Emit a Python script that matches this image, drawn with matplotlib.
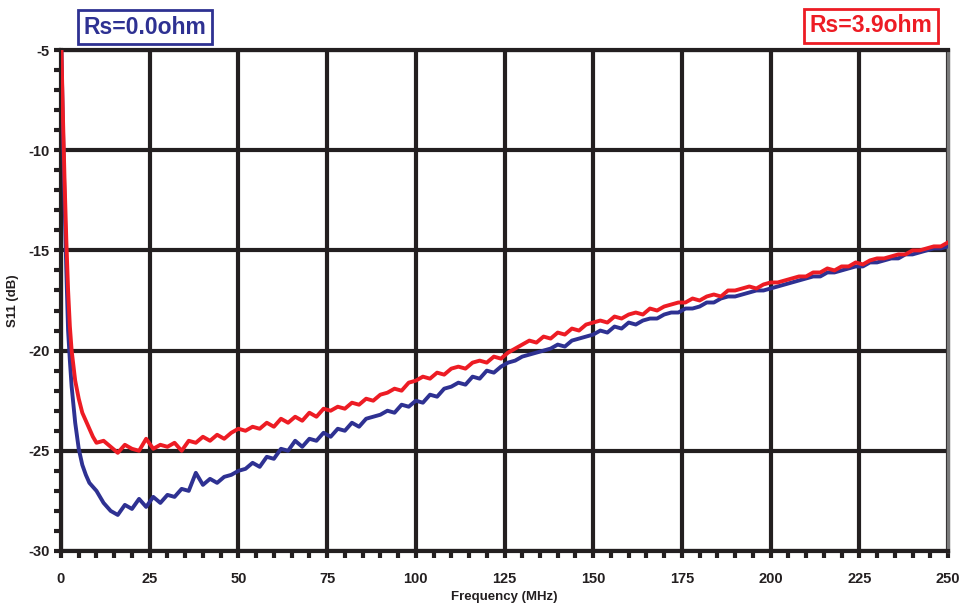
import numpy as np
import matplotlib.pyplot as plt
from matplotlib.ticker import MultipleLocator

# S11 sweep
freq_start = [0, 0.5, 1, 1.5, 2, 2.5, 3, 4, 5, 6, 7, 8, 9, 10]
freq_sweep = list(range(12, 251, 2))
freq = np.array(freq_start + freq_sweep, dtype=float)

s11_rs39 = [
    -4.0, -8.0, -11.5, -14.5, -17.0, -18.8, -20.0, -21.5, -22.4, -23.1, -23.5, -23.9, -24.3, -24.6,
    -24.5, -24.8, -25.1, -24.7, -24.9, -25.0, -24.4, -24.9, -24.7, -24.8,
    -24.6, -25.0, -24.5, -24.6, -24.3, -24.5, -24.2, -24.4, -24.1, -23.9,
    -24.0, -23.8, -23.9, -23.6, -23.8, -23.4, -23.6, -23.3, -23.5, -23.1,
    -23.3, -22.9, -23.0, -22.8, -22.9, -22.6, -22.7, -22.4, -22.5, -22.2,
    -22.1, -21.9, -22.0, -21.6, -21.5, -21.3, -21.4, -21.1, -21.2, -20.9,
    -20.8, -20.9, -20.6, -20.5, -20.6, -20.3, -20.4, -20.1, -19.9, -19.7,
    -19.5, -19.6, -19.3, -19.4, -19.1, -19.2, -18.9, -19.0, -18.7, -18.6,
    -18.5, -18.6, -18.3, -18.4, -18.2, -18.1, -18.2, -17.9, -18.0, -17.8,
    -17.7, -17.6, -17.6, -17.4, -17.5, -17.3, -17.2, -17.3, -17.0, -17.0,
    -16.9, -16.8, -16.9, -16.7, -16.6, -16.6, -16.5, -16.4, -16.3, -16.3,
    -16.1, -16.1, -15.9, -16.0, -15.8, -15.8, -15.6, -15.7, -15.5, -15.4,
    -15.4, -15.3, -15.2, -15.2, -15.0, -15.0, -14.9, -14.8, -14.8, -14.6,
]

s11_rs00 = [
    -4.0, -8.5, -12.5, -16.0, -19.0, -20.5, -21.8, -23.6, -24.9, -25.7, -26.2, -26.6, -26.8, -27.0,
    -27.6, -28.0, -28.2, -27.7, -27.9, -27.4, -27.8, -27.3, -27.6, -27.2,
    -27.3, -26.9, -27.0, -26.1, -26.7, -26.4, -26.6, -26.3, -26.2, -26.0,
    -25.9, -25.6, -25.8, -25.3, -25.4, -24.9, -25.0, -24.5, -24.8, -24.4,
    -24.5, -24.1, -24.3, -23.9, -24.0, -23.6, -23.8, -23.4, -23.3, -23.2,
    -23.0, -23.1, -22.7, -22.8, -22.5, -22.6, -22.2, -22.3, -21.9, -21.8,
    -21.6, -21.7, -21.3, -21.4, -21.0, -21.1, -20.8, -20.6, -20.5, -20.3,
    -20.2, -20.1, -20.0, -19.9, -19.7, -19.8, -19.5, -19.4, -19.3, -19.2,
    -19.0, -19.1, -18.8, -18.9, -18.6, -18.7, -18.5, -18.4, -18.4, -18.2,
    -18.1, -18.1, -17.9, -17.9, -17.8, -17.6, -17.6, -17.4, -17.3, -17.3,
    -17.2, -17.1, -17.0, -17.0, -16.9, -16.8, -16.7, -16.6, -16.5, -16.4,
    -16.3, -16.3, -16.1, -16.1, -16.0, -15.9, -15.8, -15.8, -15.6, -15.6,
    -15.5, -15.4, -15.4, -15.2, -15.2, -15.1, -15.0, -14.9, -14.9, -14.8,
]

xticks = [0, 25, 50, 75, 100, 125, 150, 175, 200, 225, 250]
yticks = [-30, -25, -20, -15, -10, -5]

BLUE = "#2e3192"
RED = "#ed1c24"
INK = "#231f20"

plt.rcParams["font.family"] = ["Liberation Sans", "DejaVu Sans"]
plt.rcParams["axes.unicode_minus"] = False

fig = plt.figure(figsize=(9.61, 6.03), dpi=100)
ax = fig.add_axes([61/961, 1 - 551/603, 887/961, 501/603])

ax.plot(freq, s11_rs00, color=BLUE, lw=2.8, zorder=3)
ax.plot(freq, s11_rs39, color=RED, lw=2.8, zorder=4)

ax.set_xlim(0, 250)
ax.set_ylim(-30, -5)
ax.set_xticks(xticks)
ax.set_yticks(yticks)
ax.xaxis.set_minor_locator(MultipleLocator(5))
ax.yaxis.set_minor_locator(MultipleLocator(1))
ax.grid(True, which="major", color=INK, lw=3, zorder=1)

ax.tick_params(which="both", direction="out", color=INK, width=3,
               labelsize=10.5, labelcolor=INK)
ax.tick_params(which="major", length=5)
ax.tick_params(which="minor", length=5)
ax.tick_params(axis="x", pad=10)
ax.tick_params(axis="y", pad=3)
for lab in ax.get_xticklabels() + ax.get_yticklabels():
    lab.set_fontweight("bold")

for side in ["left", "bottom", "top"]:
    ax.spines[side].set_color(INK)
    ax.spines[side].set_linewidth(3)
ax.spines["right"].set_color("#7a7a7a")
ax.spines["right"].set_linewidth(2.5)

ax.set_xlabel("Frequency (MHz)", fontsize=9.5, fontweight="bold", color=INK, labelpad=4)
ax.set_ylabel("S11 (dB)", fontsize=9.5, fontweight="bold", color=INK)
ax.yaxis.set_label_coords(-0.047, 0.5)

fig.text(145/961, 1 - 27/603, "Rs=0.0ohm", color=BLUE, fontsize=16.5, fontweight="bold",
         ha="center", va="center",
         bbox=dict(boxstyle="square,pad=0.25", fc="white", ec=BLUE, lw=2))
fig.text(871/961, 1 - 26/603, "Rs=3.9ohm", color=RED, fontsize=16.5, fontweight="bold",
         ha="center", va="center",
         bbox=dict(boxstyle="square,pad=0.25", fc="white", ec=RED, lw=2))

fig.savefig("out.png", dpi=100)
